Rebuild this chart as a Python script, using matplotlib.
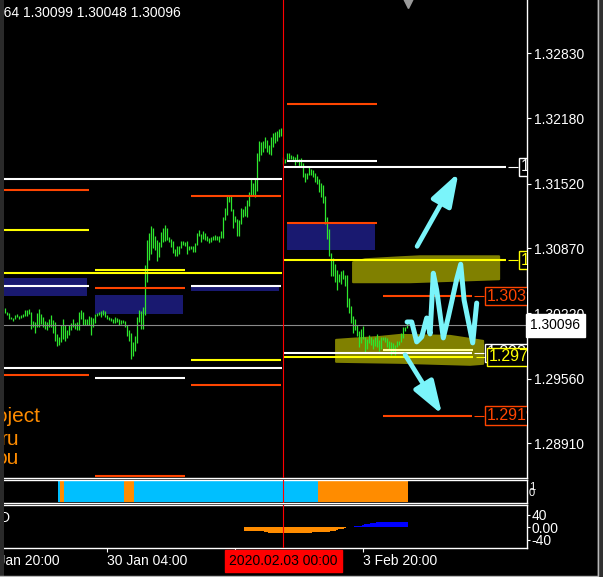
import numpy as np
import matplotlib.pyplot as plt
from matplotlib.patches import Polygon, Rectangle
from matplotlib.lines import Line2D
from matplotlib.transforms import blended_transform_factory as blend

plt.rcParams['font.family'] = ['Liberation Sans', 'DejaVu Sans']

# M30 bars (index 0 = first visible bar)
bar_high = [
    1.3027, 1.3023, 1.3022, 1.3018, 1.3017, 1.3020, 1.3021, 1.3019, 1.3020, 1.3021,
    1.3025, 1.3025, 1.3026, 1.3023, 1.3014, 1.3013, 1.3022, 1.3026, 1.3021, 1.3018,
    1.3014, 1.3013, 1.3016, 1.3020, 1.3015, 1.3013, 1.3001, 1.2998, 1.3010, 1.3016,
    1.3010, 1.3005, 1.3010, 1.3012, 1.3016, 1.3012, 1.3013, 1.3023, 1.3025, 1.3023,
    1.3016, 1.3016, 1.3019, 1.3018, 1.3017, 1.3021, 1.3022, 1.3023, 1.3024, 1.3025,
    1.3024, 1.3020, 1.3018, 1.3017, 1.3016, 1.3018, 1.3017, 1.3016, 1.3015, 1.3015,
    1.3014, 1.3010, 1.3005, 1.3002, 1.2993, 1.2999, 1.3018, 1.3025, 1.3024, 1.3028,
    1.3070, 1.3095, 1.3102, 1.3109, 1.3107, 1.3099, 1.3095, 1.3093, 1.3103, 1.3107,
    1.3110, 1.3107, 1.3098, 1.3096, 1.3094, 1.3086, 1.3089, 1.3089, 1.3094, 1.3094,
    1.3093, 1.3094, 1.3089, 1.3089, 1.3089, 1.3092, 1.3102, 1.3105, 1.3101, 1.3104,
    1.3102, 1.3099, 1.3097, 1.3098, 1.3099, 1.3100, 1.3099, 1.3099, 1.3104, 1.3119,
    1.3128, 1.3140, 1.3141, 1.3140, 1.3127, 1.3120, 1.3117, 1.3115, 1.3128, 1.3127,
    1.3130, 1.3136, 1.3144, 1.3157, 1.3153, 1.3157, 1.3183, 1.3195, 1.3194, 1.3195,
    1.3199, 1.3196, 1.3191, 1.3199, 1.3203, 1.3204, 1.3205, 1.3207, 1.3208, 1.3179,
    1.3177, 1.3183, 1.3183, 1.3181, 1.3180, 1.3179, 1.3182, 1.3177, 1.3178, 1.3173,
    1.3163, 1.3163, 1.3169, 1.3167, 1.3166, 1.3163, 1.3160, 1.3157, 1.3153, 1.3151,
    1.3140, 1.3119, 1.3106, 1.3082, 1.3077, 1.3071, 1.3065, 1.3061, 1.3064, 1.3065,
    1.3060, 1.3060, 1.3037, 1.3029, 1.3019, 1.3016, 1.3010, 1.3004, 1.3006, 1.3009,
    1.2998, 1.2996, 1.3000, 1.2998, 1.2996, 1.2998, 1.3001, 1.2995, 1.2998, 1.2998,
    1.2998, 1.2997, 1.2994, 1.2993, 1.2992, 1.2990, 1.2994, 1.2994, 1.3002, 1.3008,
    1.3008, 1.3012,
]
bar_low = [
    1.3022, 1.3020, 1.3016, 1.3016, 1.3014, 1.3016, 1.3018, 1.3016, 1.3017, 1.3018,
    1.3019, 1.3019, 1.3021, 1.3006, 1.3008, 1.3002, 1.3008, 1.3008, 1.3011, 1.3008,
    1.3006, 1.3005, 1.3008, 1.3008, 1.3002, 1.2994, 1.2989, 1.2990, 1.2993, 1.2996,
    1.2994, 1.2997, 1.3000, 1.3005, 1.3008, 1.3006, 1.3005, 1.3005, 1.3016, 1.3010,
    1.3010, 1.3010, 1.3010, 1.3000, 1.3008, 1.3012, 1.3019, 1.3020, 1.3018, 1.3020,
    1.3018, 1.3016, 1.3015, 1.3014, 1.3012, 1.3012, 1.3013, 1.3010, 1.3011, 1.3012,
    1.3008, 1.2999, 1.2994, 1.2976, 1.2979, 1.2984, 1.2992, 1.3013, 1.3006, 1.3006,
    1.3020, 1.3053, 1.3075, 1.3081, 1.3087, 1.3085, 1.3074, 1.3078, 1.3088, 1.3093,
    1.3094, 1.3095, 1.3093, 1.3088, 1.3082, 1.3079, 1.3079, 1.3081, 1.3087, 1.3090,
    1.3089, 1.3081, 1.3085, 1.3086, 1.3083, 1.3083, 1.3090, 1.3099, 1.3093, 1.3096,
    1.3095, 1.3094, 1.3092, 1.3093, 1.3095, 1.3095, 1.3095, 1.3093, 1.3097, 1.3097,
    1.3115, 1.3121, 1.3134, 1.3125, 1.3107, 1.3113, 1.3099, 1.3099, 1.3111, 1.3119,
    1.3120, 1.3119, 1.3130, 1.3141, 1.3141, 1.3139, 1.3145, 1.3175, 1.3181, 1.3184,
    1.3188, 1.3184, 1.3182, 1.3181, 1.3189, 1.3193, 1.3195, 1.3199, 1.3200, 1.3172,
    1.3173, 1.3175, 1.3177, 1.3177, 1.3175, 1.3171, 1.3174, 1.3170, 1.3170, 1.3159,
    1.3154, 1.3157, 1.3161, 1.3161, 1.3159, 1.3154, 1.3152, 1.3144, 1.3139, 1.3133,
    1.3111, 1.3096, 1.3079, 1.3059, 1.3059, 1.3053, 1.3045, 1.3053, 1.3051, 1.3056,
    1.3049, 1.3028, 1.3022, 1.3012, 1.3002, 1.3005, 1.2999, 1.2988, 1.2992, 1.2996,
    1.2982, 1.2986, 1.2992, 1.2990, 1.2986, 1.2989, 1.2988, 1.2984, 1.2986, 1.2995,
    1.2993, 1.2988, 1.2986, 1.2980, 1.2982, 1.2980, 1.2988, 1.2990, 1.2993, 1.2997,
    1.3004, 1.3007,
]
last_price = 1.30096
header_text = '1.30064 1.30099 1.30048 1.30096'
price_ticks = [1.32830, 1.32180, 1.31520, 1.30870, 1.30220, 1.29560, 1.28910]

# daily levels
day_first = [-3, 45, 93, 141, 189]
day_last = [42, 90, 138, 186, 234]
level_day = [0, 0, 0, 0, 1, 1, 1, 1, 2, 2, 2, 2, 3, 3, 3, 4, 4, 4]
level_price = [1.3146, 1.3105, 1.3049, 1.2960,
               1.3065, 1.3047, 1.2957, 1.2858,
               1.3140, 1.3049, 1.2975, 1.2950,
               1.3232, 1.3175, 1.3112,
               1.3039, 1.2919, 1.2985]
level_kind = ['R', 'P', 'M', 'R',
              'P', 'R', 'M', 'R',
              'R', 'M', 'P', 'R',
              'R', 'M', 'R',
              'R', 'R', 'T']
zone_day = [0, 1, 2, 3]
zone_top = [1.3057, 1.3040, 1.3049, 1.3113]
zone_bottom = [1.3039, 1.3021, 1.3044, 1.3085]

# weekly levels
week_price = [1.3157, 1.3062, 1.2967, 1.3169, 1.3075, 1.2982, 1.2978]
week_kind = ['M', 'P', 'M', 'M', 'P', 'M', 'P']
week_first = [-3, -3, -3, 139, 139, 139, 139]
week_last = [138.4, 138.4, 138.4, 250.4, 250.4, 233.4, 234.0]

# price tags on the right
tag_price = [1.3169, 1.3075, 1.3039, 1.2982, 1.2978, 1.2919]
tag_text = ['1.31690', '1.30750', '1.30398', '1.29820', '1.29780', '1.29190']
tag_kind = ['M', 'P', 'R', 'M', 'P', 'R']
tag_bar = [256.4, 256.4, 239.4, 239.4, 240.4, 239.4]

# hand drawn supply / demand zones
zone_hi_bar = [173.9, 179.9, 197.4, 207.4, 246.9, 246.9, 232.4, 202.4, 173.9]
zone_hi_price = [1.3073, 1.3076, 1.3078, 1.3079, 1.3079, 1.3056, 1.3055, 1.3053, 1.3053]
zone_lo_bar = [165.4, 165.4, 197.4, 232.4, 238.9, 238.9, 222.4, 197.4, 187.4, 172.4]
zone_lo_price = [1.2995, 1.2973, 1.2972, 1.2970, 1.2971, 1.2994, 1.2999, 1.3000, 1.2998, 1.2996]

# hand drawn scenario
arrow_up = [(205.9, 1.3089), (226.6, 1.3163)]
arrow_down = [(199.9, 1.2980), (218.4, 1.2920)]
zigzag_bar = [200.9, 203.2, 205.7, 208.2, 210.7, 212.4, 214.0, 215.7,
              219.0, 221.5, 225.7, 227.7, 229.4, 233.7, 235.7]
zigzag_price = [1.3013, 1.3013, 1.2993, 1.2998, 1.3017, 1.3001, 1.3062, 1.3045,
                1.2997, 1.3018, 1.3056, 1.3071, 1.3035, 1.2992, 1.3032]

# trend indicator runs
trend_first = 27
trend_runs = [('up', 1), ('down', 2), ('up', 30), ('down', 5), ('up', 92), ('down', 45)]

# oscillator histogram
hist_first = 120
hist_val = [-11, -11, -11, -12, -12, -12,
            -12, -13, -13, -13, -14, -14,
            -18, -18, -19, -19, -19, -19, -19, -19,
            -18, -18, -18, -18, -17, -17, -17, -17, -17, -17, -17,
            -17, -17, -17, -16, -16, -16, -16, -16, -16, -15,
            -14, -14, -13, -13, -12,
            -8, -6, -5, -4, -2,
            1, 2, 3, 3, 4, 4, 5, 5,
            9, 10, 11, 12, 13, 13, 14,
            16, 17, 17, 18, 18, 18, 18, 18, 18, 18, 18, 18, 18, 18, 18, 18]

time_bar = [-13, 51, 115, 179]
time_text = ['28 Jan 20:00', '30 Jan 04:00', '31 Jan 12:00', '3 Feb 20:00']
vline_bar = 139
vline_text = '2020.02.03 00:00'

# ---------------------------------------------------------------
FW, FH = 603.0, 577.0
fig = plt.figure(figsize=(6.03, 5.77), dpi=100, facecolor='black')


def panel(top, bottom, frame_top):
    a = fig.add_axes([4 / FW, 1 - bottom / FH, 523 / FW, (bottom - top) / FH])
    a.set_facecolor('black')
    a.set_xlim(-0.65, 260.85)
    a.spines['left'].set_visible(False)
    a.spines['top'].set_visible(frame_top)
    for s in ('top', 'right', 'bottom'):
        a.spines[s].set_color('white')
        a.spines[s].set_linewidth(1.0)
    a.yaxis.tick_right()
    a.tick_params(colors='white', labelsize=10, length=3, width=0.8, pad=2)
    return a


ax = panel(0, 478, False)
ax2 = panel(480, 503, True)
ax3 = panel(505, 548, True)

col = {'R': '#ff4500', 'P': '#ffff00', 'M': '#ffffff', 'T': '#ffff99'}
cyan = '#7af4fa'

ax.set_ylim(1.28562, 1.33366)
ax.set_xticks([])
ax.set_yticks(price_ticks)
ax.set_yticklabels([f'{p:.5f}' for p in price_ticks])

# zones
ax.add_patch(Polygon(list(zip(zone_hi_bar, zone_hi_price)), closed=True,
                     fc='#808000', ec='#808000', lw=1.5, joinstyle='round', zorder=1))
ax.add_patch(Polygon(list(zip(zone_lo_bar, zone_lo_price)), closed=True,
                     fc='#808000', ec='#808000', lw=1.5, joinstyle='round', zorder=1))
for d, t, b in zip(zone_day, zone_top, zone_bottom):
    ax.add_patch(Rectangle((day_first[d], b), day_last[d] - 1 - day_first[d], t - b,
                           fc='#191970', ec='none', zorder=1))

# bars
idx = np.arange(len(bar_high))
ax.vlines(idx, bar_low, bar_high, color='#2ee62e', lw=0.9, zorder=2)
ax.axhline(last_price, color='#8a8a8a', lw=0.8, zorder=2.5)

# levels
for d, p, k in zip(level_day, level_price, level_kind):
    x0, x1 = day_first[d], day_last[d]
    if d == 4 and k != 'T':
        x1 = 233.4
    ax.hlines(p, x0, x1, color=col[k], lw=1.5, zorder=3)
for p, k, a, b in zip(week_price, week_kind, week_first, week_last):
    ax.hlines(p, a, b, color=col[k], lw=1.5, zorder=3)

# tags
for p, t, k, b in zip(tag_price, tag_text, tag_kind, tag_bar):
    ax.hlines(p, b - 5, b, color=col[k], lw=0.8, zorder=3)
    ax.text(b + 1.3, p, t, color=col[k], fontsize=11.5, ha='left', va='center',
            clip_on=True, zorder=6,
            bbox=dict(boxstyle='square,pad=0.1', fc='black', ec=col[k], lw=1))

# hand drawing
ax.plot(zigzag_bar, zigzag_price, color=cyan, lw=3.6, solid_joinstyle='round',
        solid_capstyle='round', zorder=5)
for tail, tip in (arrow_up, arrow_down):
    ax.annotate('', xy=tip, xytext=tail,
                arrowprops=dict(arrowstyle='-|>,head_width=0.42,head_length=1.25',
                                color=cyan, lw=3.4, mutation_scale=16,
                                shrinkA=0, shrinkB=0), zorder=5)

ax.annotate(f'{last_price:.5f}', xy=(1, last_price), xycoords=('axes fraction', 'data'),
            xytext=(2.5, 0), textcoords='offset points', ha='left', va='center',
            fontsize=10, color='black', annotation_clip=False, zorder=7,
            bbox=dict(boxstyle='square,pad=0.3', fc='white', ec='white'))
ax.plot([201.4], [1 - 2.5 / 478], marker='v', ms=7, color='#9a9a9a', clip_on=False,
        transform=blend(ax.transData, ax.transAxes))

fig.text(181 / FW, 1 - 13 / FH, header_text, color='white', fontsize=10,
         ha='right', va='center')
for txt, xr, yb in (('Project', 40, 422), ('ru', 19, 445), ('ou', 19, 464)):
    fig.text(xr / FW, 1 - yb / FH, txt, color='#ff8c00', fontsize=15,
             ha='right', va='baseline')

# trend panel
tx, tc = [], []
pos = trend_first
for state, n in trend_runs:
    for _ in range(n):
        tx.append(pos)
        tc.append('#00bfff' if state == 'up' else '#ff8c00')
        pos += 1
ax2.bar(tx, 1, width=1.0, bottom=0, color=tc, lw=0, antialiased=False)
ax2.set_ylim(-0.05, 1.05)
ax2.set_xticks([])
ax2.set_yticks([])
fig.text(529 / FW, 1 - 487 / FH, '1', color='white', fontsize=8, ha='left', va='center')
fig.text(529 / FW, 1 - 493 / FH, '0', color='white', fontsize=8, ha='left', va='center')

# oscillator panel
hx = np.arange(hist_first, hist_first + len(hist_val))
ax3.bar(hx, hist_val, width=1.0, color=['#ff8c00' if v < 0 else '#0000ff' for v in hist_val],
        lw=0, antialiased=False)
ax3.set_ylim(-66, 72)
ax3.set_yticks([40, 0, -40])
ax3.set_yticklabels(['40', '0.00', '-40'])
ax3.tick_params(axis='y', length=2, pad=1)
ax3.set_xticks(time_bar[1:])
ax3.set_xticklabels([''] * 3)
fig.text(10 / FW, 1 - 518 / FH, 'D', color='white', fontsize=10, ha='right', va='center')

tr = blend(ax3.transData, ax3.transAxes)
for b, t in zip(time_bar, time_text):
    ax3.text(b, -0.14, t, transform=tr, ha='left', va='top', color='white',
             fontsize=10, clip_on=False)
ax3.text(vline_bar, -0.14, vline_text, transform=tr, ha='center', va='top', color='black',
         fontsize=10, clip_on=False, zorder=10,
         bbox=dict(boxstyle='square,pad=0.3', fc='red', ec='red'))

for a in (ax, ax2, ax3):
    a.axvline(vline_bar, color='red', lw=0.8, zorder=4)

# window chrome
fig.add_artist(Rectangle((0, 0), 4 / FW, 1, transform=fig.transFigure,
                         fc='#2a2a2a', ec='none', zorder=20))
fig.add_artist(Rectangle((597 / FW, 0), 6 / FW, 1, transform=fig.transFigure,
                         fc='#303030', ec='none', zorder=20))
fig.add_artist(Line2D([597.5 / FW] * 2, [0, 1], transform=fig.transFigure,
                      color='#b8b8b8', lw=1, zorder=21))
fig.add_artist(Line2D([0, 597 / FW], [1.5 / FH] * 2, transform=fig.transFigure,
                      color='#b8b8b8', lw=1, zorder=21))

fig.savefig('out.png', dpi=100, facecolor='black')
